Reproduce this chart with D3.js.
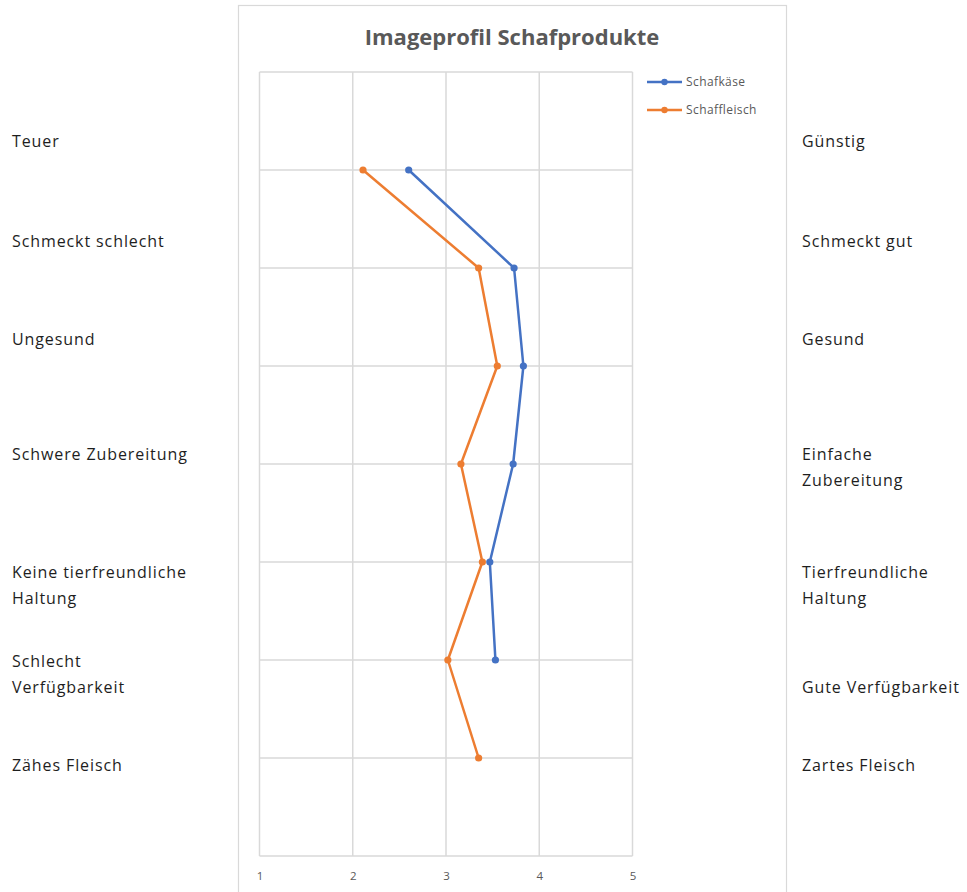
<!DOCTYPE html>
<html>
<head>
<meta charset="utf-8">
<script src="https://cdn.jsdelivr.net/npm/d3@7"></script>
<style>
  html, body { margin: 0; padding: 0; background: #fff; }
  svg { display: block; }
</style>
</head>
<body>
<svg id="chart" width="967" height="892"></svg>
<script>
// Imageprofil: mean ratings 1..5 per attribute pair
const rows = [1, 2, 3, 4, 5, 6, 7];
const leftLabels = [
  ["Teuer"], ["Schmeckt schlecht"], ["Ungesund"], ["Schwere Zubereitung"],
  ["Keine tierfreundliche", "Haltung"], ["Schlecht", "Verfügbarkeit"], ["Zähes Fleisch"]
];
const rightLabels = [
  ["Günstig"], ["Schmeckt gut"], ["Gesund"], ["Einfache", "Zubereitung"],
  ["Tierfreundliche", "Haltung"], ["Gute Verfügbarkeit"], ["Zartes Fleisch"]
];
const seriesNames = ["Schafkäse", "Schaffleisch"];
const schafkaese = [2.6, 3.73, 3.83, 3.72, 3.47, 3.53];
const schaffleisch = [2.11, 3.35, 3.55, 3.16, 3.39, 3.02, 3.35];
const xTicks = [1, 2, 3, 4, 5];

// Layout of the side text boxes (first-line centre, px)
const leftLabelY = [141, 241, 339, 454, 572, 661, 765];
const rightLabelY = [141, 241, 339, 454, 572, 687, 765];
const lineGap = 26;

const colors = ["#4472C4", "#ED7D31"];
const grid = "#d9d9d9";
const font = "'Open Sans', 'Noto Sans', sans-serif";

const svg = d3.select("#chart");

// chart frame
svg.append("rect")
  .attr("x", 238.5).attr("y", 5.5)
  .attr("width", 548).attr("height", 900)
  .attr("fill", "#fff").attr("stroke", grid).attr("stroke-width", 1.2);

const x = d3.scaleLinear().domain([1, 5]).range([259.5, 632.5]);
const y = d3.scaleLinear().domain([0, 8]).range([856, 72]);
const rowY = r => y(8 - r);

// gridlines
svg.append("g").selectAll("line.v").data(xTicks).join("line")
  .attr("x1", d => x(d)).attr("x2", d => x(d))
  .attr("y1", y(8)).attr("y2", y(0))
  .attr("stroke", grid).attr("stroke-width", 1.5);
svg.append("g").selectAll("line.h").data(d3.range(0, 9)).join("line")
  .attr("x1", x(1)).attr("x2", x(5))
  .attr("y1", d => y(d)).attr("y2", d => y(d))
  .attr("stroke", grid).attr("stroke-width", 1.5);

// x axis labels
const xAxis = svg.append("g")
  .attr("transform", `translate(0,${y(0)})`)
  .call(d3.axisBottom(x).tickValues(xTicks).tickFormat(d3.format("d")).tickSize(0).tickPadding(16));
xAxis.select(".domain").remove();
xAxis.selectAll("text")
  .attr("font-family", font).attr("font-size", 11.5).attr("fill", "#595959");

// title
svg.append("text")
  .attr("x", 512).attr("y", 45)
  .attr("text-anchor", "middle")
  .attr("font-family", font).attr("font-weight", "bold").attr("font-size", 22)
  .attr("fill", "#595959")
  .text("Imageprofil Schafprodukte");

// series
const series = [schafkaese, schaffleisch].map((vals, i) => ({
  name: seriesNames[i], color: colors[i],
  points: vals.map((v, j) => ({ v, r: rows[j] }))
}));
const line = d3.line().x(d => x(d.v)).y(d => rowY(d.r));

const sg = svg.append("g").selectAll("g").data(series).join("g");
sg.append("path")
  .attr("d", d => line(d.points))
  .attr("fill", "none").attr("stroke", d => d.color)
  .attr("stroke-width", 2.5).attr("stroke-linejoin", "round");
sg.each(function (s) {
  d3.select(this).selectAll("circle").data(s.points).join("circle")
    .attr("cx", d => x(d.v)).attr("cy", d => rowY(d.r)).attr("r", 3.6)
    .attr("fill", s.color);
});

// legend
const lg = svg.append("g").selectAll("g").data(series).join("g")
  .attr("transform", (d, i) => `translate(647,${82 + i * 28})`);
lg.append("line").attr("x1", 0).attr("x2", 35).attr("y1", 0).attr("y2", 0)
  .attr("stroke", d => d.color).attr("stroke-width", 2.5);
lg.append("circle").attr("cx", 17.5).attr("cy", 0).attr("r", 3.2).attr("fill", d => d.color);
lg.append("text").attr("x", 39).attr("y", 0).attr("dy", "0.35em")
  .attr("font-family", font).attr("font-size", 12).attr("letter-spacing", 0.4)
  .attr("fill", "#595959")
  .text(d => d.name);

// side labels
function sideLabels(labels, ys, x0) {
  svg.append("g").selectAll("text").data(labels).join("text")
    .attr("x", x0)
    .attr("font-family", font).attr("font-size", 16).attr("letter-spacing", 0.9)
    .attr("fill", "#1e1e1e")
    .each(function (lines, i) {
      d3.select(this).selectAll("tspan").data(lines).join("tspan")
        .attr("x", x0)
        .attr("y", (d, k) => ys[i] + k * lineGap)
        .attr("dy", "0.35em")
        .text(d => d);
    });
}
sideLabels(leftLabels, leftLabelY, 12);
sideLabels(rightLabels, rightLabelY, 802);
</script>
</body>
</html>
